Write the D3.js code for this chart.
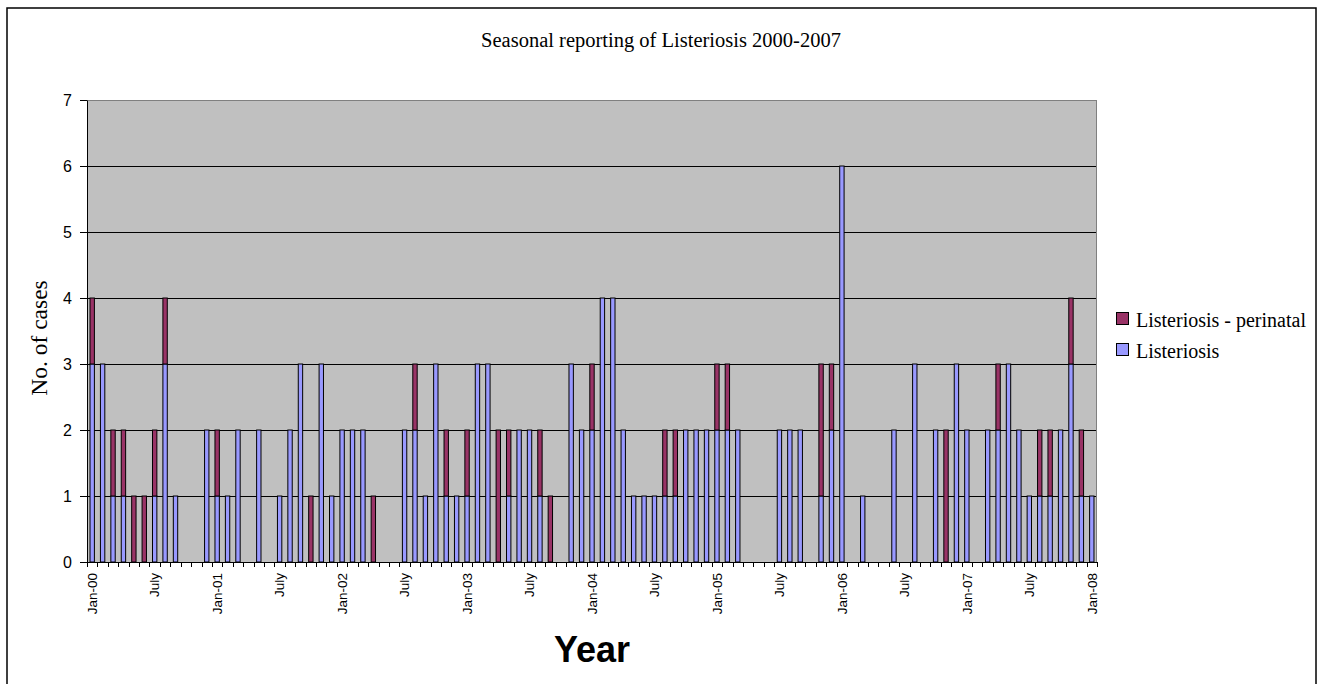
<!DOCTYPE html>
<html>
<head>
<meta charset="utf-8">
<script src="https://cdn.jsdelivr.net/npm/d3@7"></script>
<style>
  html, body { margin: 0; padding: 0; background: #fff; }
  svg { display: block; }
</style>
</head>
<body>
<svg id="chart" width="1322" height="684"></svg>
<script>
// Monthly categories, January 2000 through January 2008
const months = d3.timeMonth.range(new Date(2000, 0, 1), new Date(2008, 1, 1));

// Reported cases per month
const listeriosis = [
  3, 3, 1, 1, 0, 0, 1, 3, 1, 0, 0, 2,   // 2000
  1, 1, 2, 0, 2, 0, 1, 2, 3, 0, 3, 1,   // 2001
  2, 2, 2, 0, 0, 0, 2, 2, 1, 3, 1, 1,   // 2002
  1, 3, 3, 0, 1, 2, 2, 1, 0, 0, 3, 2,   // 2003
  2, 4, 4, 2, 1, 1, 1, 1, 1, 2, 2, 2,   // 2004
  2, 2, 2, 0, 0, 0, 2, 2, 2, 0, 1, 2,   // 2005
  6, 0, 1, 0, 0, 2, 0, 3, 0, 2, 0, 3,   // 2006
  2, 0, 2, 2, 3, 2, 1, 1, 1, 2, 3, 1,   // 2007
  1                                     // Jan 2008
];
const perinatal = [
  1, 0, 1, 1, 1, 1, 1, 1, 0, 0, 0, 0,
  1, 0, 0, 0, 0, 0, 0, 0, 0, 1, 0, 0,
  0, 0, 0, 1, 0, 0, 0, 1, 0, 0, 1, 0,
  1, 0, 0, 2, 1, 0, 0, 1, 1, 0, 0, 0,
  1, 0, 0, 0, 0, 0, 0, 1, 1, 0, 0, 0,
  1, 1, 0, 0, 0, 0, 0, 0, 0, 0, 2, 1,
  0, 0, 0, 0, 0, 0, 0, 0, 0, 0, 2, 0,
  0, 0, 0, 1, 0, 0, 0, 1, 1, 0, 1, 1,
  0
];

// Axis labels: one every six months
const tickLabels = ["Jan-00", "July", "Jan-01", "July", "Jan-02", "July", "Jan-03", "July",
                    "Jan-04", "July", "Jan-05", "July", "Jan-06", "July", "Jan-07", "July", "Jan-08"];
const yTicks = [0, 1, 2, 3, 4, 5, 6, 7];

const seriesKeys = ["listeriosis", "perinatal"];
const seriesNames = { listeriosis: "Listeriosis", perinatal: "Listeriosis - perinatal" };
const colors = { listeriosis: "#9999FF", perinatal: "#993366" };

const SANS = "'Liberation Sans', Arial, sans-serif";
const SERIF = "'Liberation Serif', 'Times New Roman', serif";

const svg = d3.select("#chart");

// Outer chart frame
svg.append("rect")
  .attr("x", 7).attr("y", 8).attr("width", 1309).attr("height", 690)
  .attr("fill", "#fff").attr("stroke", "#000").attr("stroke-width", 1.5);

const plot = { left: 87, right: 1097, top: 100, bottom: 562 };

const rows = months.map((m, i) => ({ month: m, index: i, listeriosis: listeriosis[i], perinatal: perinatal[i] }));

const x = d3.scaleBand()
  .domain(rows.map(d => d.index))
  .range([plot.left, plot.right])
  .paddingInner(0.58)
  .paddingOuter(0.29);

const y = d3.scaleLinear().domain([0, 7]).range([plot.bottom, plot.top]);

// Plot area background
svg.append("rect")
  .attr("x", plot.left).attr("y", plot.top)
  .attr("width", plot.right - plot.left).attr("height", plot.bottom - plot.top)
  .attr("fill", "#C0C0C0");

// Horizontal gridlines
svg.append("g")
  .selectAll("line")
  .data(yTicks.filter(v => v > 0 && v < 7))
  .join("line")
  .attr("x1", plot.left).attr("x2", plot.right)
  .attr("y1", d => Math.round(y(d)) + 0.5).attr("y2", d => Math.round(y(d)) + 0.5)
  .attr("stroke", "#000").attr("stroke-width", 1);

// Plot area border
svg.append("rect")
  .attr("x", plot.left + 0.5).attr("y", plot.top + 0.5)
  .attr("width", plot.right - plot.left - 1).attr("height", plot.bottom - plot.top)
  .attr("fill", "none").attr("stroke", "#808080").attr("stroke-width", 1);

// Stacked bars
const stacked = d3.stack().keys(seriesKeys)(rows);
svg.append("g")
  .selectAll("g")
  .data(stacked)
  .join("g")
  .attr("fill", s => colors[s.key])
  .selectAll("rect")
  .data(s => s.filter(d => d[1] - d[0] > 0))
  .join("rect")
  .attr("x", d => x(d.data.index))
  .attr("width", x.bandwidth())
  .attr("y", d => y(d[1]))
  .attr("height", d => y(d[0]) - y(d[1]))
  .attr("stroke", "#000")
  .attr("stroke-width", 1);

// Y axis
const yAxis = svg.append("g")
  .attr("transform", `translate(${plot.left},0)`)
  .call(d3.axisLeft(y).tickValues(yTicks).tickFormat(d3.format("d")).tickSize(7).tickSizeOuter(0).tickPadding(8));
yAxis.select(".domain").attr("stroke", "#000");
yAxis.selectAll("line").attr("stroke", "#000");
yAxis.selectAll("text").attr("font-family", SANS).attr("font-size", 16).attr("fill", "#000");

// X axis: ticks on month boundaries
const step = x.step();
const boundaries = d3.range(rows.length + 1).map(i => i === rows.length
  ? x(rows.length - 1) + x.bandwidth() / 2 + step / 2
  : x(i) + x.bandwidth() / 2 - step / 2);
const xAxis = svg.append("g");
xAxis.append("line")
  .attr("x1", plot.left).attr("x2", plot.right)
  .attr("y1", plot.bottom + 0.5).attr("y2", plot.bottom + 0.5)
  .attr("stroke", "#000");
xAxis.selectAll("line.tick")
  .data(boundaries)
  .join("line")
  .attr("class", "tick")
  .attr("x1", d => Math.round(d) + 0.5).attr("x2", d => Math.round(d) + 0.5)
  .attr("y1", plot.bottom).attr("y2", plot.bottom + 5)
  .attr("stroke", "#000");

xAxis.selectAll("text")
  .data(tickLabels)
  .join("text")
  .attr("transform", (d, k) => `translate(${x(k * 6) + x.bandwidth() / 2},573) rotate(-90)`)
  .attr("dy", "0.35em")
  .attr("text-anchor", "end")
  .attr("font-family", SANS)
  .attr("font-size", 13.5)
  .attr("fill", "#000")
  .text(d => d);

// Titles
svg.append("text")
  .attr("x", 661).attr("y", 47)
  .attr("text-anchor", "middle")
  .attr("font-family", SERIF).attr("font-size", 20.5)
  .text("Seasonal reporting of Listeriosis 2000-2007");

svg.append("text")
  .attr("transform", "translate(47,338) rotate(-90)")
  .attr("text-anchor", "middle")
  .attr("font-family", SERIF).attr("font-size", 23.5)
  .text("No. of cases");

svg.append("text")
  .attr("x", (plot.left + plot.right) / 2).attr("y", 662)
  .attr("text-anchor", "middle")
  .attr("font-family", SANS).attr("font-weight", "bold").attr("font-size", 36)
  .text("Year");

// Legend
const legendOrder = ["perinatal", "listeriosis"];
const legend = svg.append("g").attr("transform", "translate(1116,312)");
const item = legend.selectAll("g")
  .data(legendOrder)
  .join("g")
  .attr("transform", (d, i) => `translate(0,${i * 31})`);
item.append("rect")
  .attr("x", 0.5).attr("y", 0.5).attr("width", 12).attr("height", 12)
  .attr("fill", d => colors[d]).attr("stroke", "#000").attr("stroke-width", 1);
item.append("text")
  .attr("x", 20).attr("y", 14.7)
  .attr("font-family", SERIF).attr("font-size", 20)
  .text(d => seriesNames[d]);
</script>
</body>
</html>
